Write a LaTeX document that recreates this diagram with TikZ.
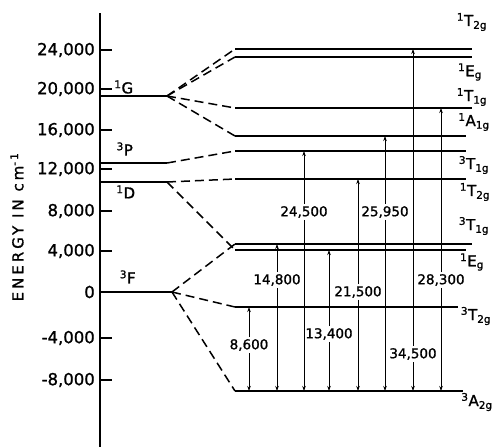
\documentclass[tikz,border=0pt]{standalone}
\usepackage{fontspec}
\setmainfont[FakeBold=1.2]{DejaVu Sans}
\newfontfamily\spacedfont[LetterSpace=20,FakeBold=1.2]{DejaVu Sans}
\usetikzlibrary{arrows.meta}
\newcommand{\term}[3]{\textsuperscript{#1}#2\textsubscript{#3}}

\begin{document}
\begin{tikzpicture}[x=1pt, y=-1pt,
    level/.style={line width=1.5pt},
    link/.style={line width=1.5pt, dash pattern=on 9pt off 5pt},
    trans/.style={line width=0.7pt, -{Stealth[length=5pt,width=3.5pt]}},
    val/.style={inner sep=2pt, font=\fontsize{13.5}{15}\selectfont},
    ticklab/.style={anchor=east, inner sep=0pt, font=\fontsize{16.5}{18}\selectfont},
    termlab/.style={inner sep=0pt, font=\fontsize{15}{17}\selectfont}]
    \useasboundingbox (0,0) rectangle (492,447);

    % Energy axis
    \draw[line width=1.3pt] (100,13) coordinate (axtop) -- (100,447) coordinate (axbot);
    \foreach \y/\lab in {50/{24,000}, 89/{20,000}, 130/{16,000}, 169/{12,000},
        211/{8,000}, 251/{4,000}, 292/{0}, 338/{-4,000}, 380/{-8,000}} {
        \draw[line width=1.3pt] (100,\y) -- (112,\y);
        \node[ticklab] (tick\y) at (95,\y) {\lab};
    }
    \node[rotate=90, inner sep=0pt, font=\spacedfont\fontsize{15}{17}\selectfont] (ylab) at (17,227)
        {ENERGY IN cm\textsuperscript{-1}};

    % Free ion terms
    \draw[level] (100,96) coordinate (G0) -- (167,96) coordinate (G);
    \draw[level] (100,163) coordinate (P0) -- (167,163) coordinate (P);
    \draw[level] (100,182) coordinate (D0) -- (167,182) coordinate (D);
    \draw[level] (100,292) coordinate (F0) -- (172,292) coordinate (F);
    \node[termlab] (lG) at (124,88) {\term{1}{G}{}};
    \node[termlab] (lP) at (125,150) {\term{3}{P}{}};
    \node[termlab] (lD) at (126,193) {\term{1}{D}{}};
    \node[termlab] (lF) at (128,278) {\term{3}{F}{}};

    % Octahedral field terms
    \draw[level] (235,49) coordinate (T2a) -- (472,49);
    \draw[level] (235,57) coordinate (Ega) -- (472,57);
    \draw[level] (235,108) coordinate (T1a) -- (472,108);
    \draw[level] (235,136) coordinate (A1) -- (466,136);
    \draw[level] (235,151) coordinate (T1b) -- (466,151);
    \draw[level] (235,179) coordinate (T2b) -- (466,179);
    \draw[level] (235,244) coordinate (T1c) -- (472,244);
    \draw[level] (235,250) coordinate (Egb) -- (466,250);
    \draw[level] (235,307) coordinate (T2c) -- (458,307);
    \draw[level] (235,391) coordinate (A2) -- (463,391);
    \node[termlab] (lT2a) at (472,22) {\term{1}{T}{2g}};
    \node[termlab] (lEga) at (470,72) {\term{1}{E}{g}};
    \node[termlab] (lT1a) at (472,97) {\term{1}{T}{1g}};
    \node[termlab] (lA1) at (474,122) {\term{1}{A}{1g}};
    \node[termlab] (lT1b) at (474,165) {\term{3}{T}{1g}};
    \node[termlab] (lT2b) at (475,192) {\term{1}{T}{2g}};
    \node[termlab] (lT1c) at (474,226) {\term{3}{T}{1g}};
    \node[termlab] (lEgb) at (472,262) {\term{1}{E}{g}};
    \node[termlab] (lT2c) at (476,316) {\term{3}{T}{2g}};
    \node[termlab] (lA2) at (477,402) {\term{3}{A}{2g}};

    % Splitting
    \draw[link] (G) -- (T2a);
    \draw[link] (G) -- (Ega);
    \draw[link] (G) -- (T1a);
    \draw[link] (G) -- (A1);
    \draw[link] (P) -- (T1b);
    \draw[link] (D) -- (T2b);
    \draw[link] (D) -- (Egb);
    \draw[link] (F) -- (T1c);
    \draw[link] (F) -- (T2c);
    \draw[link] (F) -- (A2);

    % Transitions from the ground state
    \node[val] (v1) at (249,345) {8,600};
    \node[val] (v2) at (277,280) {14,800};
    \node[val] (v3) at (304,212) {24,500};
    \node[val] (v4) at (329,334) {13,400};
    \node[val] (v5) at (358,292) {21,500};
    \node[val] (v6) at (385,212) {25,950};
    \node[val] (v7) at (413,354) {34,500};
    \node[val] (v8) at (441,280) {28,300};
    \foreach \v/\up in {v1/T2c, v2/T1c, v3/T1b, v4/Egb, v5/T2b, v6/A1, v7/T2a, v8/T1a} {
        \draw[trans] (\v.north) -- (\v |- \up);
        \draw[trans] (\v.south) -- (\v |- A2);
    }
\end{tikzpicture}
\end{document}
